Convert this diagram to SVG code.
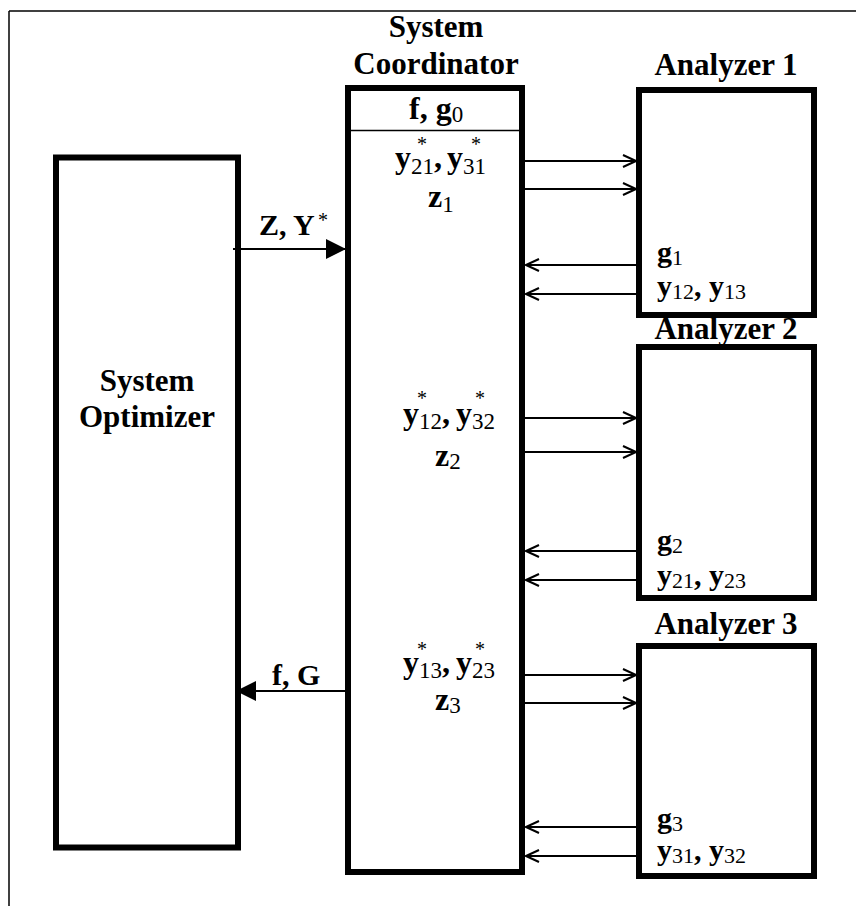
<svg xmlns="http://www.w3.org/2000/svg" width="856" height="906" viewBox="0 0 856 906">
<style>
text{font-family:"Liberation Serif","Times New Roman",serif;fill:#000}
.t{font-size:31px;font-weight:bold;text-anchor:middle}
.b{font-size:30px;font-weight:bold}
.c{font-size:32px;font-weight:bold}
.s{font-size:22px;font-weight:normal}
.cs{font-size:23px;font-weight:normal}
.st{font-size:20px;font-weight:normal}
.box{fill:#fff;stroke:#000;stroke-width:6}
.thin{stroke:#000;stroke-width:2;fill:none}
.thick{stroke:#000;stroke-width:2;fill:none}
</style>
<defs>
<marker id="open" markerUnits="userSpaceOnUse" markerWidth="16" markerHeight="14" refX="14" refY="7" orient="auto">
<path d="M1,1 L14,7 L1,13" fill="none" stroke="#000" stroke-width="2"/>
</marker>
<marker id="solid" markerUnits="userSpaceOnUse" markerWidth="22" markerHeight="22" refX="20" refY="10" orient="auto">
<path d="M0,0 L20,10 L0,20 Z" fill="#000"/>
</marker>
</defs>
<g id="frame">
<line x1="9" y1="11" x2="856" y2="11" stroke="#000" stroke-width="1.5"/>
<line x1="9" y1="11" x2="9" y2="906" stroke="#000" stroke-width="1.5"/>
</g>
<g id="optimizer">
<rect class="box" x="56" y="157.5" width="182" height="690"/>
<text class="t" x="147" y="391">System</text>
<text class="t" x="147" y="427">Optimizer</text>
</g>
<g id="coordinator">
<text class="t" x="436" y="37">System</text>
<text class="t" x="436" y="74">Coordinator</text>
<rect class="box" x="348" y="88" width="174" height="784"/>
<line x1="348" y1="130.5" x2="522" y2="130.5" stroke="#000" stroke-width="1.5"/>
<text class="c" x="409" y="119">f, g<tspan class="cs" font-weight="bold" dy="3">0</tspan></text>
<text class="c" x="395" y="168">y<tspan class="cs" dy="6">21</tspan><tspan dy="-6">,</tspan><tspan x="447">y</tspan><tspan class="cs" dy="6">31</tspan></text>
<text class="st" x="417" y="151">*</text><text class="st" x="471" y="151">*</text>
<text class="c" x="428" y="207">z<tspan class="cs" dy="5">1</tspan></text>
<text class="c" x="403" y="424">y<tspan class="cs" dy="5">12</tspan><tspan dy="-5">,</tspan><tspan x="456">y</tspan><tspan class="cs" dy="5">32</tspan></text>
<text class="st" x="417" y="405">*</text><text class="st" x="475" y="405">*</text>
<text class="c" x="435" y="466">z<tspan class="cs" dy="3">2</tspan></text>
<text class="c" x="403" y="673">y<tspan class="cs" dy="5">13</tspan><tspan dy="-5">,</tspan><tspan x="456">y</tspan><tspan class="cs" dy="5">23</tspan></text>
<text class="st" x="417" y="656">*</text><text class="st" x="475" y="656">*</text>
<text class="c" x="435" y="710">z<tspan class="cs" dy="3">3</tspan></text>
</g>
<g id="analyzer1">
<text class="t" x="726" y="75">Analyzer 1</text>
<rect class="box" x="639" y="90" width="175" height="225"/>
<text class="b" x="657" y="262">g<tspan class="s" dy="3">1</tspan></text>
<text class="b" x="657" y="296">y<tspan class="s" dy="3">12</tspan><tspan dy="-3">, y</tspan><tspan class="s" dy="3">13</tspan></text>
</g>
<g id="analyzer2">
<text class="t" x="726" y="339">Analyzer 2</text>
<rect class="box" x="639" y="347" width="175" height="251"/>
<text class="b" x="657" y="550">g<tspan class="s" dy="3">2</tspan></text>
<text class="b" x="657" y="585">y<tspan class="s" dy="3">21</tspan><tspan dy="-3">, y</tspan><tspan class="s" dy="3">23</tspan></text>
</g>
<g id="analyzer3">
<text class="t" x="726" y="634">Analyzer 3</text>
<rect class="box" x="639" y="646" width="175" height="230"/>
<text class="b" x="657" y="828">g<tspan class="s" dy="3">3</tspan></text>
<text class="b" x="657" y="860">y<tspan class="s" dy="3">31</tspan><tspan dy="-3">, y</tspan><tspan class="s" dy="3">32</tspan></text>
</g>
<g id="connectors">
<line class="thick" x1="233" y1="249" x2="346" y2="249" marker-end="url(#solid)"/>
<text class="b" x="259" y="235">Z, Y</text><text class="st" x="318" y="227" font-size="26">*</text>
<line class="thick" x1="345" y1="691" x2="236" y2="691" marker-end="url(#solid)"/>
<text class="b" x="272" y="685">f, G</text>
<line class="thin" x1="525" y1="161" x2="636" y2="161" marker-end="url(#open)"/>
<line class="thin" x1="525" y1="189" x2="636" y2="189" marker-end="url(#open)"/>
<line class="thin" x1="636" y1="265" x2="526" y2="265" marker-end="url(#open)"/>
<line class="thin" x1="636" y1="294" x2="526" y2="294" marker-end="url(#open)"/>
<line class="thin" x1="525" y1="418" x2="636" y2="418" marker-end="url(#open)"/>
<line class="thin" x1="525" y1="452" x2="636" y2="452" marker-end="url(#open)"/>
<line class="thin" x1="636" y1="551" x2="526" y2="551" marker-end="url(#open)"/>
<line class="thin" x1="636" y1="580" x2="526" y2="580" marker-end="url(#open)"/>
<line class="thin" x1="525" y1="675" x2="636" y2="675" marker-end="url(#open)"/>
<line class="thin" x1="525" y1="703" x2="636" y2="703" marker-end="url(#open)"/>
<line class="thin" x1="636" y1="827" x2="526" y2="827" marker-end="url(#open)"/>
<line class="thin" x1="636" y1="856" x2="526" y2="856" marker-end="url(#open)"/>
</g>
</svg>
